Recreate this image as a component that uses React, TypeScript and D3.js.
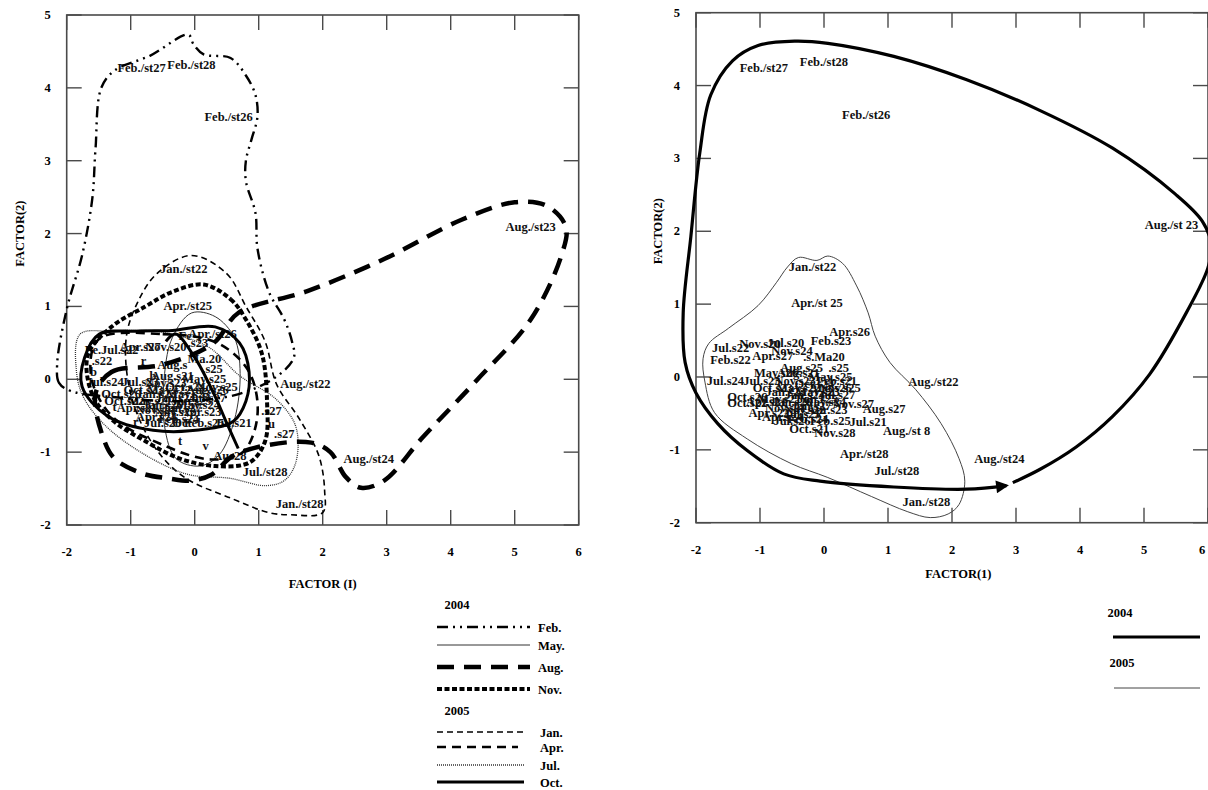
import React from "react";
import * as d3 from "d3";

type Pt = [number, number];
type Lab = [string, number, number];

const xTicks = [-2, -1, 0, 1, 2, 3, 4, 5, 6];
const yTicks = [-2, -1, 0, 1, 2, 3, 4, 5];

// ---------- Left panel: contours by sampling month ----------
const feb2004: Pt[] = [[-1.94,-0.16],[-2.12,-0.05],[-2.15,0.2],[-2.0,0.96],[-1.76,1.7],[-1.6,2.48],[-1.55,3.16],[-1.46,4.0],[-1.25,4.24],[-0.7,4.44],[-0.1,4.73],[-0.02,4.6],[0.14,4.46],[0.56,4.41],[0.8,4.17],[0.95,3.9],[0.98,3.6],[0.89,3.3],[0.8,3.0],[0.8,2.72],[0.95,2.28],[0.98,1.8],[1.16,1.2],[1.4,0.82],[1.52,0.52],[1.55,0.3],[1.3,0.05],[0.7,-0.2],[-0.2,-0.3],[-1.2,-0.25]];
const may2004: Pt[] = [[-0.05,0.91],[0.32,0.86],[0.62,0.57],[0.71,0.08],[0.62,-0.56],[0.38,-1.04],[0.08,-1.19],[-0.29,-1.09],[-0.47,-0.65],[-0.47,0.08],[-0.35,0.57]];
const aug2004: Pt[] = [[-1.55,-0.2],[-1.3,0.1],[-0.5,0.2],[0.3,0.5],[0.68,0.91],[1.76,1.21],[2.96,1.65],[4.17,2.19],[5.0,2.43],[5.5,2.38],[5.8,2.09],[5.73,1.7],[5.25,0.82],[4.4,-0.02],[3.56,-0.8],[2.96,-1.39],[2.6,-1.49],[2.36,-1.34],[2.12,-1.0],[1.82,-0.87],[1.16,-0.9],[0.6,-1.05],[0.26,-1.31],[-0.05,-1.39],[-0.41,-1.36],[-0.83,-1.29],[-1.25,-1.09],[-1.43,-0.8]];
const nov2004: Pt[] = [[0.14,1.3],[0.56,1.1],[0.8,0.82],[1.05,0.35],[1.13,-0.3],[1.1,-0.85],[0.86,-1.14],[0.32,-1.19],[-0.23,-1.09],[-0.77,-0.85],[-1.3,-0.55],[-1.6,-0.21],[-1.67,0.33],[-1.3,0.72],[-0.77,1.0],[-0.35,1.2]];
const jan2005: Pt[] = [[-0.05,1.7],[0.5,1.45],[0.8,1.0],[1.1,0.52],[1.28,-0.07],[1.64,-0.55],[1.94,-1.05],[2.03,-1.53],[2.0,-1.83],[1.5,-1.86],[1.16,-1.83],[0.56,-1.63],[-0.17,-1.34],[-0.65,-0.9],[-1.0,-0.2],[-1.07,0.57],[-0.89,1.06],[-0.59,1.45]];
const apr2005: Pt[] = [[-1.5,0.55],[-0.5,0.62],[0.35,0.5],[0.85,0.1],[0.98,-0.5],[0.75,-1.0],[0.25,-1.1],[-0.5,-0.9],[-1.3,-0.5],[-1.62,0.05]];
const jul2005: Pt[] = [[-1.79,0.62],[-1.3,0.66],[-0.6,0.66],[0.2,0.45],[0.7,0.05],[1.28,-0.28],[1.58,-0.65],[1.58,-1.14],[1.4,-1.39],[1.1,-1.46],[0.56,-1.36],[-0.17,-1.29],[-1.25,-0.75],[-1.73,-0.26],[-1.85,0.13]];
const oct2005: Pt[] = [[-1.49,0.62],[-0.9,0.66],[-0.35,0.67],[0.32,0.72],[0.7,0.5],[0.85,0.1],[0.8,-0.3],[0.6,-0.58],[0.2,-0.68],[-0.65,-0.7],[-1.37,-0.5],[-1.76,-0.1],[-1.72,0.3]];
const oct2005Inner: Pt[] = [[-0.45,0.52],[-0.3,0.62],[0.0,0.3],[0.3,-0.2],[0.5,-0.6],[0.68,-0.95]];

// ---------- Right panel: contours by year ----------
const year2004: Pt[] = [[2.95,-1.45],[3.37,-1.27],[3.94,-0.96],[4.51,-0.54],[5.09,0.04],[5.66,0.88],[6.0,1.5],[6.05,1.82],[5.91,2.14],[5.49,2.51],[4.51,3.14],[3.37,3.66],[2.23,4.08],[1.09,4.4],[0.06,4.58],[-0.46,4.61],[-1.03,4.55],[-1.43,4.34],[-1.77,3.87],[-1.94,3.08],[-2.08,1.93],[-2.2,0.88],[-2.17,0.2],[-2.0,-0.22],[-1.66,-0.64],[-1.2,-1.01],[-0.63,-1.33],[-0.06,-1.43],[1.09,-1.51],[2.23,-1.54],[2.85,-1.49]];
const year2005: Pt[] = [[-0.4,1.64],[-0.11,1.6],[0.06,1.66],[0.29,1.56],[0.51,1.25],[0.69,0.88],[0.8,0.56],[1.03,0.2],[1.43,-0.17],[1.83,-0.64],[2.11,-1.12],[2.2,-1.43],[2.11,-1.75],[1.94,-1.88],[1.66,-1.93],[1.31,-1.85],[0.74,-1.64],[0.06,-1.38],[-0.51,-1.19],[-1.2,-0.85],[-1.71,-0.49],[-1.86,-0.07],[-1.89,0.25],[-1.8,0.46],[-1.49,0.67],[-1.03,0.98],[-0.74,1.3],[-0.57,1.51]];

// ---------- Station labels ----------
const leftLabels: Lab[] = [
  ["Feb./st27",-0.83,4.27],["Feb./st28",-0.05,4.31],["Feb./st26",0.53,3.6],["Aug./st23",5.25,2.09],
  ["Jan./st22",-0.17,1.51],["Apr./st25",-0.11,1.01],["Aug./st22",1.73,-0.07],["Aug./st24",2.72,-1.09],
  ["Jul./st28",1.1,-1.27],["Jan./st28",1.64,-1.71],
  ["Apr./st26",0.28,0.62],["Fe",-0.15,0.6],[".s23",0.05,0.5],["Ma.20",0.15,0.28],[".s25",0.28,0.14],
  ["Fe.Jul.s22",-1.3,0.4],[".s22",-1.45,0.25],["Apr.s27",-0.85,0.45],["Nov.s20",-0.45,0.45],["Aug.s",-0.35,0.2],
  ["Jul.s24",-1.4,-0.04],["Jul.s23",-0.85,-0.04],["Oct.s26",-1.15,-0.2],["Oct.s22",-1.1,-0.3],
  [".s27",1.2,-0.43],[".s27",1.4,-0.75],["u",1.2,-0.62],["Oct",-0.2,-0.6],["Aus28",0.55,-1.05],["Jul.s21",0.6,-0.6],
  ["t",-0.23,-0.85],["v",0.17,-0.92],["r",-0.92,-0.58],["t",-1.25,-0.38],["r",-0.8,0.25],["b",-0.65,0.05],["b",-1.58,0.1],
  ["Jan.s23",-0.6,-0.2],["Jan.s24",-0.3,-0.25],["Jan.s25",-0.05,-0.3],["Jan.s26",-0.5,-0.35],["Jan.s27",-0.2,-0.4],
  ["May.s21",-0.7,-0.3],["May.s22",-0.4,-0.15],["May.s23",-0.1,-0.2],["May.s24",0.05,-0.35],["Nov.s21",-0.6,-0.42],
  ["Nov.s22",-0.3,-0.45],["Nov.s23",-0.45,-0.05],["Oct.s23",-0.8,-0.15],["Oct.s24",-0.15,-0.1],["Apr.s21",-0.9,-0.4],
  ["Apr.s23",0.1,-0.45],["Apr.s24",-0.6,-0.52],["Feb.s24",-0.25,-0.55],["Feb.s25",0.15,-0.6],["Jul.s26",-0.5,-0.6],
  ["Jul.s27",0.2,-0.25],["May.s25",0.15,0.0],["Aug.s26",0.2,-0.15],["Aug.s21",-0.35,0.05],["Nov.s25",0.35,-0.1]
];
const rightLabels: Lab[] = [
  ["Feb./st27",-0.94,4.24],["Feb./st28",0.0,4.33],["Feb./st26",0.66,3.6],["Aug./st 23",5.43,2.09],
  ["Jan./st22",-0.18,1.51],["Apr./st 25",-0.11,1.01],["Apr.s26",0.4,0.62],["Feb.s23",0.11,0.49],
  ["Nov.s20",-1.0,0.45],["Jul.s20",-0.6,0.47],["Jul.s22",-1.46,0.4],["Apr.s27",-0.8,0.29],["Nov.s24",-0.5,0.36],
  ["Feb.s22",-1.46,0.24],[".s.Ma20",0.0,0.27],["Aug.s25",-0.35,0.12],[".s25",0.23,0.12],["Jul.s24",-1.54,-0.05],
  ["Jul.s23",-0.97,-0.05],["Feb.s21",0.2,-0.05],["Nov.s25",0.25,-0.15],["Oct.s26",-1.2,-0.28],["Oct.s22",-1.2,-0.36],
  ["Apr.s22",-0.86,-0.49],["Jul.s25",-0.34,-0.51],["Nov.s27",0.46,-0.37],["Aug.s27",0.94,-0.44],["Jul.s21",0.69,-0.62],
  ["Oct.s21",-0.23,-0.72],["Nov.s28",0.17,-0.77],["Aug./st 8",1.29,-0.74],["Aug./st22",1.71,-0.07],
  ["Apr./st28",0.63,-1.06],["Jul./st28",1.14,-1.29],["Jan./st28",1.6,-1.71],["Aug./st24",2.74,-1.12],
  ["Jan.s23",-0.6,-0.2],["Jan.s24",-0.3,-0.25],["Jan.s25",-0.1,-0.3],["Jan.s26",-0.5,-0.35],["Jan.s27",-0.2,-0.4],
  ["May.s21",-0.7,-0.3],["May.s22",-0.4,-0.15],["May.s23",-0.1,-0.2],["May.s24",0.0,-0.35],["Nov.s21",-0.6,-0.42],
  ["Nov.s22",-0.3,-0.45],["Nov.s23",-0.45,-0.05],["Oct.s23",-0.8,-0.15],["Oct.s24",-0.15,-0.1],["Apr.s21",-0.9,-0.35],
  ["Apr.s23",0.05,-0.45],["Apr.s24",-0.65,-0.55],["Feb.s24",-0.25,-0.58],["Feb.s25",0.1,-0.6],["Jul.s26",-0.5,-0.6],
  ["Jul.s27",0.2,-0.25],["May.s25",0.1,0.0],["May.s26",-0.75,0.05],["Aug.s26",0.1,-0.15],["Aug.s21",-0.4,0.05]
];

// ---------- Legend ----------
const legendLeftYears = ["2004", "2005"];
const legendLeft2004 = ["Feb.", "May.", "Aug.", "Nov."];
const legendLeft2005 = ["Jan.", "Apr.", "Jul.", "Oct."];
const legendRight = ["2004", "2005"];

type Style = { w: number; dash?: string; color?: string };
const monthStyle: Record<string, Style> = {
  "Feb.": { w: 2.4, dash: "11,5,2,5,2,5" },
  "May.": { w: 1, color: "#333" },
  "Aug.": { w: 4.5, dash: "17,10" },
  "Nov.": { w: 4, dash: "5,2.5" },
  "Jan.": { w: 1.6, dash: "6,4" },
  "Apr.": { w: 2.6, dash: "9,6" },
  "Jul.": { w: 1.3, dash: "1,1", color: "#333" },
  "Oct.": { w: 3 },
};
const yearStyle: Record<string, Style> = {
  "2004": { w: 3.2 },
  "2005": { w: 1, color: "#444" },
};

const FONT = "'Liberation Serif','Times New Roman',Times,serif";
const LABEL_SIZE = 12.5;
const TICK_SIZE = 12.5;
const PAGE_W = 1208;

type Box = { x0: number; x1: number; y0: number; y1: number };
const LEFT: Box = { x0: 66.7, x1: 578.7, y0: 15, y1: 525 };
const RIGHT: Box = { x0: 696, x1: 1208, y0: 12.7, y1: 522.7 };

function Frame({ box, xs, ys, xTitle, xTitleX, xTitleY, yTitleX }: any) {
  const tick = 15;
  const fc = "#4a4a4a";
  return (
    <g>
      <rect x={box.x0} y={box.y0} width={box.x1 - box.x0} height={box.y1 - box.y0} fill="none" stroke={fc} strokeWidth={1.6} />
      {xTicks.map((t) => (
        <g key={"x" + t}>
          <line x1={xs(t)} x2={xs(t)} y1={box.y1} y2={box.y1 - tick} stroke={fc} strokeWidth={1.4} />
          <line x1={xs(t)} x2={xs(t)} y1={box.y0} y2={box.y0 + tick} stroke={fc} strokeWidth={1.4} />
          <text x={Math.min(xs(t), PAGE_W - 6)} y={box.y1 + 27} textAnchor="middle" dominantBaseline="central" fontFamily={FONT} fontWeight="bold" fontSize={TICK_SIZE}>{t}</text>
        </g>
      ))}
      {yTicks.map((t) => (
        <g key={"y" + t}>
          <line x1={box.x0} x2={box.x0 + tick} y1={ys(t)} y2={ys(t)} stroke={fc} strokeWidth={1.4} />
          <line x1={box.x1} x2={box.x1 - tick} y1={ys(t)} y2={ys(t)} stroke={fc} strokeWidth={1.4} />
          <text x={box.x0 - 16} y={ys(t)} textAnchor="end" dominantBaseline="central" fontFamily={FONT} fontWeight="bold" fontSize={TICK_SIZE}>{t}</text>
        </g>
      ))}
      <text transform={`translate(${yTitleX},${ys(2)}) rotate(-90)`} textAnchor="middle" dominantBaseline="central" fontFamily={FONT} fontWeight="bold" fontSize={12.5}>FACTOR(2)</text>
      <text x={xTitleX} y={xTitleY} textAnchor="middle" dominantBaseline="central" fontFamily={FONT} fontWeight="bold" fontSize={12.5}>{xTitle}</text>
    </g>
  );
}

function styleProps(s: Style) {
  return {
    fill: "none",
    stroke: s.color || "#000",
    strokeWidth: s.w,
    strokeDasharray: s.dash,
    strokeLinecap: "butt" as const,
    strokeLinejoin: "round" as const,
  };
}

function Labels({ labels, xs, ys }: any) {
  return (
    <g fontFamily={FONT} fontWeight="bold" fontSize={LABEL_SIZE} fill="#111">
      {labels.map((l: Lab, i: number) => (
        <text key={i} x={xs(l[1])} y={ys(l[2])} textAnchor="middle" dominantBaseline="central">{l[0]}</text>
      ))}
    </g>
  );
}

export default function App() {
  const xl = d3.scaleLinear().domain([-2, 6]).range([LEFT.x0, LEFT.x1]);
  const yl = d3.scaleLinear().domain([-2, 5]).range([LEFT.y1, LEFT.y0]);
  const xr = d3.scaleLinear().domain([-2, 6]).range([RIGHT.x0, RIGHT.x1]);
  const yr = d3.scaleLinear().domain([-2, 5]).range([RIGHT.y1, RIGHT.y0]);

  const closedL = d3.line<Pt>().x((d) => xl(d[0])).y((d) => yl(d[1])).curve(d3.curveCatmullRomClosed.alpha(0.5));
  const openL = d3.line<Pt>().x((d) => xl(d[0])).y((d) => yl(d[1])).curve(d3.curveCatmullRom.alpha(0.5));
  const closedR = d3.line<Pt>().x((d) => xr(d[0])).y((d) => yr(d[1])).curve(d3.curveCatmullRomClosed.alpha(0.5));
  const openR = d3.line<Pt>().x((d) => xr(d[0])).y((d) => yr(d[1])).curve(d3.curveCatmullRom.alpha(0.5));

  const leftContours: [string, Pt[]][] = [
    ["Jan.", jan2005], ["Jul.", jul2005], ["May.", may2004], ["Apr.", apr2005],
    ["Nov.", nov2004], ["Oct.", oct2005], ["Feb.", feb2004], ["Aug.", aug2004],
  ];

  const lgX0 = 437, lgX1 = 530, lgT = 538;
  const rows2004 = [627, 645, 667, 689];
  const rows2005 = [732, 747, 765, 782];

  return (
    <svg width={1208} height={790} style={{ position: "absolute", left: 0, top: 0, background: "#fff" }}>
      <defs>
        <marker id="arr" viewBox="0 0 10 10" refX={8} refY={5} markerWidth={5} markerHeight={4} orient="auto" markerUnits="strokeWidth">
          <path d="M0,0 L10,5 L0,10 z" fill="#000" />
        </marker>
      </defs>
      <rect width={1208} height={790} fill="#fff" />

      {/* Left panel */}
      <Frame box={LEFT} xs={xl} ys={yl} xTitle="FACTOR (I)" xTitleX={xl(2)} xTitleY={584} yTitleX={LEFT.x0 - 47} />
      <Labels labels={leftLabels} xs={xl} ys={yl} />
      {leftContours.map(([m, pts]) => (
        <path key={m} d={closedL(pts) || ""} {...styleProps(monthStyle[m])} />
      ))}
      <path d={openL(oct2005Inner) || ""} {...styleProps(monthStyle["Oct."])} />

      {/* Right panel */}
      <Frame box={RIGHT} xs={xr} ys={yr} xTitle="FACTOR(1)" xTitleX={xr(2.1)} xTitleY={574} yTitleX={RIGHT.x0 - 38} />
      <Labels labels={rightLabels} xs={xr} ys={yr} />
      <path d={closedR(year2005) || ""} {...styleProps(yearStyle["2005"])} />
      <path d={openR(year2004) || ""} {...styleProps(yearStyle["2004"])} markerEnd="url(#arr)" />

      {/* Left legend */}
      <g fontFamily={FONT} fontWeight="bold" fontSize={12.5}>
        <text x={457} y={605} textAnchor="middle" dominantBaseline="central">{legendLeftYears[0]}</text>
        {legendLeft2004.map((m, i) => (
          <g key={m}>
            <line x1={lgX0} x2={lgX1} y1={rows2004[i]} y2={rows2004[i]} {...styleProps(monthStyle[m])} />
            <text x={lgT} y={rows2004[i] + 1} dominantBaseline="central">{m}</text>
          </g>
        ))}
        <text x={457} y={711} textAnchor="middle" dominantBaseline="central">{legendLeftYears[1]}</text>
        {legendLeft2005.map((m, i) => (
          <g key={m}>
            <line x1={lgX0} x2={lgX1 - (m === "Apr." ? 12 : 6)} y1={rows2005[i]} y2={rows2005[i]} {...styleProps(monthStyle[m])} />
            <text x={lgT + 2} y={rows2005[i] + 1} dominantBaseline="central">{m}</text>
          </g>
        ))}
      </g>

      {/* Right legend */}
      <g fontFamily={FONT} fontWeight="bold" fontSize={12.5}>
        <text x={1120} y={613} textAnchor="middle" dominantBaseline="central">{legendRight[0]}</text>
        <line x1={1113} x2={1200} y1={637} y2={637} {...styleProps(yearStyle["2004"])} />
        <text x={1122} y={663} textAnchor="middle" dominantBaseline="central">{legendRight[1]}</text>
        <line x1={1114} x2={1200} y1={688} y2={688} {...styleProps(yearStyle["2005"])} />
      </g>
    </svg>
  );
}
